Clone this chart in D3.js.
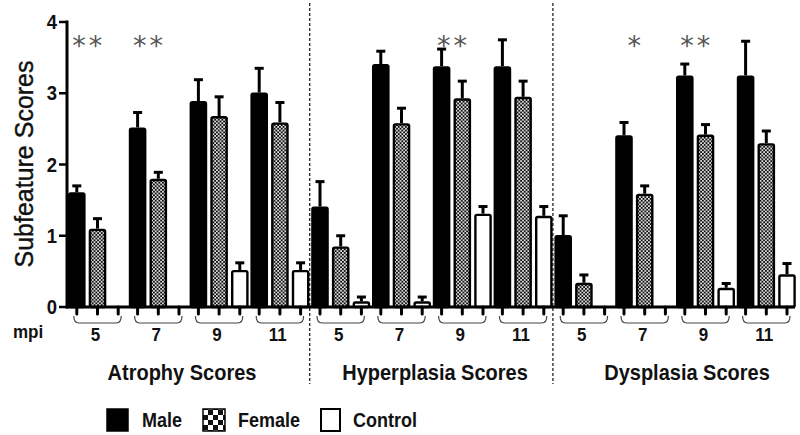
<!DOCTYPE html>
<html>
<head>
<meta charset="utf-8">
<script src="https://cdn.jsdelivr.net/npm/d3@7"></script>
<style>
  html, body { margin: 0; padding: 0; background: #fff; }
  svg { display: block; font-family: "Liberation Sans", Arial, sans-serif; }
</style>
</head>
<body>
<svg id="chart" width="800" height="435"></svg>
<script>
// ---- data ----
const sections = ["Atrophy Scores", "Hyperplasia Scores", "Dysplasia Scores"];
const mpi = ["5", "7", "9", "11"];
const seriesNames = ["Male", "Female", "Control"];
const yTicks = [0, 1, 2, 3, 4];

// means, order: Atrophy 5,7,9,11 | Hyperplasia 5,7,9,11 | Dysplasia 5,7,9,11
const maleMean    = [1.61, 2.52, 2.89, 3.01, 1.41, 3.41, 3.38, 3.38, 1.01, 2.41, 3.25, 3.25];
const maleErr     = [0.09, 0.21, 0.30, 0.34, 0.35, 0.18, 0.24, 0.37, 0.27, 0.18, 0.16, 0.48];
const femaleMean  = [1.10, 1.80, 2.68, 2.59, 0.85, 2.58, 2.93, 2.95, 0.34, 1.59, 2.42, 2.30];
const femaleErr   = [0.14, 0.09, 0.27, 0.28, 0.15, 0.21, 0.24, 0.22, 0.11, 0.11, 0.14, 0.17];
const controlMean = [0.00, 0.00, 0.52, 0.52, 0.08, 0.08, 1.31, 1.28, 0.00, 0.00, 0.27, 0.46];
const controlErr  = [0.00, 0.00, 0.10, 0.10, 0.06, 0.06, 0.10, 0.13, 0.00, 0.00, 0.06, 0.15];

// significance marks: [group index, text]
const sigGroups = [0, 1, 6, 9, 10];
const sigText   = ["**", "**", "**", "*", "**"];

// ---- build ----
const svg = d3.select("#chart");
const groupKeys = [];
sections.forEach((s, si) => mpi.forEach((m, mi) => groupKeys.push(si * 4 + mi)));

const rows = [];
groupKeys.forEach(g => {
  rows.push({g, s: "Male", v: maleMean[g], e: maleErr[g]});
  rows.push({g, s: "Female", v: femaleMean[g], e: femaleErr[g]});
  rows.push({g, s: "Control", v: controlMean[g], e: controlErr[g]});
});

const y = d3.scaleLinear().domain([0, 4]).range([307, 22]);
const x0 = d3.scaleBand().domain(groupKeys).range([68, 797.6]).padding(0);
const x1 = d3.scaleBand().domain(seriesNames).range([0, 59]).paddingInner(0.15).paddingOuter(0);

// bold, slightly tall text like the reference's narrow face
function tallText(parent, x, yy, txt, size, anchor, sy) {
  return parent.append("text")
    .attr("transform", `translate(${x},${yy}) scale(1,${sy})`)
    .attr("text-anchor", anchor)
    .attr("font-size", size).attr("font-weight", "bold").attr("fill", "#111")
    .text(txt);
}

// patterns
const defs = svg.append("defs");
const pat = defs.append("pattern").attr("id", "checker").attr("patternUnits", "userSpaceOnUse")
  .attr("width", 3.6).attr("height", 3.6);
pat.append("rect").attr("width", 3.6).attr("height", 3.6).attr("fill", "#111");
pat.append("rect").attr("x", 0.1).attr("y", 0.1).attr("width", 1.65).attr("height", 1.65).attr("fill", "#fff");
pat.append("rect").attr("x", 1.9).attr("y", 1.9).attr("width", 1.65).attr("height", 1.65).attr("fill", "#fff");

const pat2 = defs.append("pattern").attr("id", "checkerBig").attr("patternUnits", "userSpaceOnUse")
  .attr("x", 203).attr("y", 410).attr("width", 10).attr("height", 10);
pat2.append("rect").attr("width", 10).attr("height", 10).attr("fill", "#111");
pat2.append("rect").attr("x", 0).attr("y", 0).attr("width", 5).attr("height", 5).attr("fill", "#fff");
pat2.append("rect").attr("x", 5).attr("y", 5).attr("width", 5).attr("height", 5).attr("fill", "#fff");

const fillFor = s => s === "Male" ? "#000" : (s === "Female" ? "url(#checker)" : "#fff");

// dashed separators
[4, 8].forEach(g => {
  const xx = x0(g) - 1.5;
  svg.append("line").attr("x1", xx).attr("x2", xx).attr("y1", 3).attr("y2", 384)
    .attr("stroke", "#222").attr("stroke-width", 1.3).attr("stroke-dasharray", "3,2");
});

// error bars
const eb = svg.append("g");
rows.filter(d => d.v > 0).forEach(d => {
  const cx = x0(d.g) + x1(d.s) + x1.bandwidth() / 2;
  eb.append("line").attr("x1", cx).attr("x2", cx).attr("y1", y(d.v)).attr("y2", y(d.v + d.e))
    .attr("stroke", "#000").attr("stroke-width", 3);
  eb.append("line").attr("x1", cx - 4.5).attr("x2", cx + 4.5).attr("y1", y(d.v + d.e)).attr("y2", y(d.v + d.e))
    .attr("stroke", "#000").attr("stroke-width", 3);
});

// bars
svg.append("g").selectAll("rect").data(rows.filter(d => d.v > 0)).join("rect")
  .attr("x", d => x0(d.g) + x1(d.s) + 1.2)
  .attr("width", x1.bandwidth() - 2.4)
  .attr("y", d => y(d.v) + 1.2)
  .attr("height", d => Math.max(0, y(0) - y(d.v) - 1.2))
  .attr("rx", 1.5)
  .attr("fill", d => fillFor(d.s))
  .attr("stroke", "#000")
  .attr("stroke-width", 2.4);

// y axis
const yAxis = svg.append("g");
yAxis.append("line").attr("x1", 67).attr("x2", 67).attr("y1", y(4) - 1.5).attr("y2", y(0) + 1.5)
  .attr("stroke", "#000").attr("stroke-width", 3);
yTicks.forEach(t => {
  yAxis.append("line").attr("x1", 59).attr("x2", 67).attr("y1", y(t)).attr("y2", y(t))
    .attr("stroke", "#000").attr("stroke-width", 2.5);
  tallText(yAxis, 57, y(t) + 7, t, 18.5, "end", 1.08);
});
svg.append("text").attr("transform", "translate(33,164) rotate(-90)").attr("text-anchor", "middle")
  .attr("font-size", 26).attr("fill", "#111").attr("stroke", "#111").attr("stroke-width", 0.4)
  .attr("textLength", 207).attr("lengthAdjust", "spacingAndGlyphs")
  .text("Subfeature Scores");

// x axis line
svg.append("line").attr("x1", 66).attr("x2", 795).attr("y1", y(0)).attr("y2", y(0))
  .attr("stroke", "#000").attr("stroke-width", 3);

// ticks under every bar
const tk = svg.append("g");
rows.forEach(d => {
  const cx = x0(d.g) + x1(d.s) + x1.bandwidth() / 2;
  tk.append("line").attr("x1", cx).attr("x2", cx).attr("y1", y(0)).attr("y2", y(0) + 7)
    .attr("stroke", "#000").attr("stroke-width", 3).attr("stroke-linecap", "round");
});

// braces per group
groupKeys.forEach(g => {
  const a = x0(g) + x1("Male") + x1.bandwidth() / 2 - 3;
  const b = x0(g) + x1("Control") + x1.bandwidth() / 2 + 3;
  const p = d3.path();
  p.moveTo(a, 316);
  p.quadraticCurveTo(a, 323, a + 5, 323);
  p.lineTo(b - 5, 323);
  p.quadraticCurveTo(b, 323, b, 316);
  svg.append("path").attr("d", p.toString()).attr("fill", "none").attr("stroke", "#444").attr("stroke-width", 1.2);
});

// mpi labels
tallText(svg, 13, 338, "mpi", 17, "start", 1.1);
groupKeys.forEach(g => {
  tallText(svg, x0(g) + x0.bandwidth() / 2 - 3, 341, mpi[g % 4], 17, "middle", 1.12);
});

// section labels
const secCenters = [182, 435, 687];
sections.forEach((s, i) => {
  tallText(svg, secCenters[i], 380, s, 20, "middle", 1.12);
});

// significance marks
sigGroups.forEach((g, i) => {
  const cx = x0(g) + (x1("Male") + x1("Female")) / 2 + x1.bandwidth() / 2;
  svg.append("text").attr("x", cx + 1.5).attr("y", 55).attr("text-anchor", "middle")
    .attr("font-family", "DejaVu Sans").attr("font-size", 27).attr("letter-spacing", 3)
    .attr("fill", "#555").text(sigText[i]);
});

// legend
const lg = svg.append("g");
const legBoxes = [{x: 107, w: 21, tx: 142}, {x: 203, w: 22, tx: 238}, {x: 321, w: 19, tx: 353}];
seriesNames.forEach((s, i) => {
  const b = legBoxes[i];
  lg.append("rect").attr("x", b.x).attr("y", 409).attr("width", b.w).attr("height", 22)
    .attr("fill", s === "Male" ? "#000" : (s === "Female" ? "url(#checkerBig)" : "#fff"))
    .attr("stroke", "#000").attr("stroke-width", s === "Control" ? 2 : 1.5);
  tallText(lg, b.tx, 427, s, 18, "start", 1.1);
});
</script>
</body>
</html>
